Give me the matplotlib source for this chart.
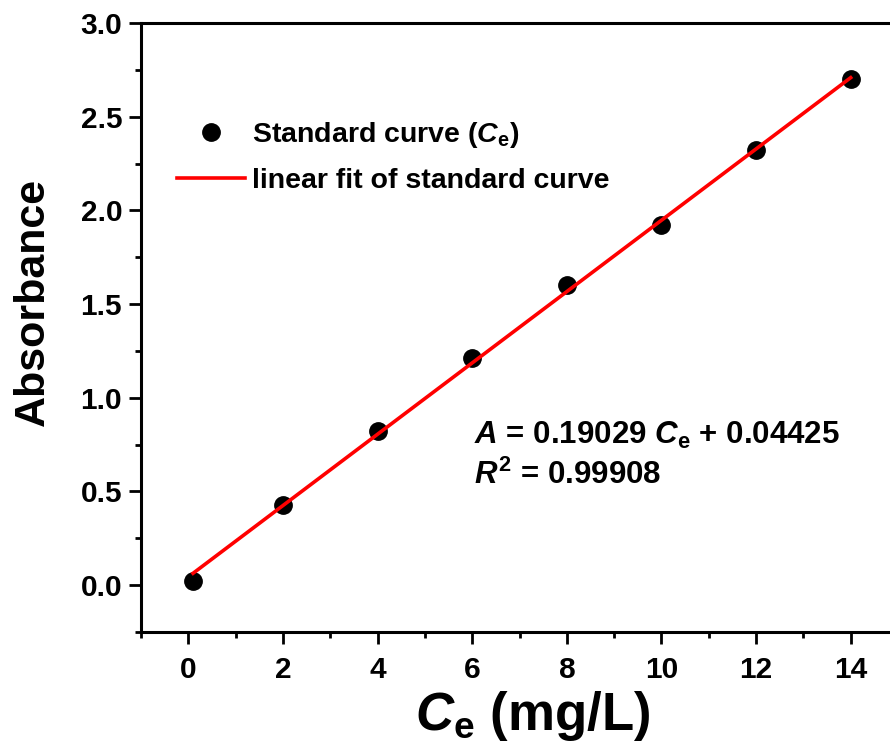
import matplotlib
matplotlib.use('Agg')
import matplotlib.pyplot as plt
import numpy as np
from matplotlib.ticker import MultipleLocator

# standard curve data
conc = [0.1, 2, 4, 6, 8, 10, 12, 14]
absorbance = [0.02, 0.43, 0.82, 1.21, 1.60, 1.92, 2.32, 2.70]
slope = 0.19029
intercept = 0.04425
r_squared = 0.99908

plt.rcParams['font.family'] = 'Liberation Sans'
plt.rcParams['font.weight'] = 'bold'
plt.rcParams['mathtext.fontset'] = 'custom'
plt.rcParams['mathtext.rm'] = 'Liberation Sans:bold'
plt.rcParams['mathtext.it'] = 'Liberation Sans:bold:italic'
plt.rcParams['mathtext.bf'] = 'Liberation Sans:bold'

fig = plt.figure(figsize=(8.9, 7.48), dpi=100)
ax = fig.add_axes([141 / 890, 116 / 748, 757 / 890, 609 / 748])

fit_x = np.array([conc[0], conc[-1]])
fit_y = slope * fit_x + intercept

ax.plot(conc, absorbance, 'o', color='black', ms=12.5, linestyle='none',
        label='Standard curve ($C_\\mathrm{e}$)', zorder=2)
ax.plot(fit_x, fit_y, '-', color='#ff0000', lw=2.6,
        label='linear fit of standard curve', zorder=3)

ax.set_xlim(-1, 15)
ax.set_ylim(-0.25, 3.0)
ax.xaxis.set_major_locator(MultipleLocator(2))
ax.xaxis.set_minor_locator(MultipleLocator(1))
ax.yaxis.set_major_locator(MultipleLocator(0.5))
ax.yaxis.set_minor_locator(MultipleLocator(0.25))
ax.yaxis.set_major_formatter(matplotlib.ticker.FormatStrFormatter('%.1f'))

ax.spines['right'].set_visible(False)
for s in ['left', 'top', 'bottom']:
    ax.spines[s].set_linewidth(2.2)
ax.tick_params(which='major', direction='out', length=8.5, width=2,
               labelsize=21.5, top=False, right=False)
ax.tick_params(axis='x', which='major', pad=9)
ax.tick_params(axis='y', which='major', pad=5)
ax.tick_params(which='minor', direction='out', length=4, width=2,
               top=False, right=False)
for lbl in ax.get_xticklabels() + ax.get_yticklabels():
    lbl.set_fontweight('bold')

ax.set_xlabel('$C_\\mathrm{e}$ (mg/L)', fontsize=38, fontweight='bold')
ax.set_ylabel('Absorbance', fontsize=31, fontweight='bold')
ax.xaxis.set_label_coords(0.517, -0.093)
ax.yaxis.set_label_coords(-0.117, 0.542)

ax.legend(loc='upper left', bbox_to_anchor=(0.047, 0.84), frameon=False,
          handlelength=2.4, handletextpad=0.25,
          labelspacing=0.6, borderpad=0, borderaxespad=0,
          prop={'weight': 'bold', 'size': 20.5})

ax.text(0.44, 0.322, '$A$ = %.5f $C_\\mathrm{e}$ + %.5f' % (slope, intercept),
        transform=ax.transAxes, fontsize=22.5, fontweight='bold', va='center')
ax.text(0.44, 0.257, '$R^2$ = %.5f' % r_squared,
        transform=ax.transAxes, fontsize=22.5, fontweight='bold', va='center')

fig.savefig('out.png', dpi=100)
